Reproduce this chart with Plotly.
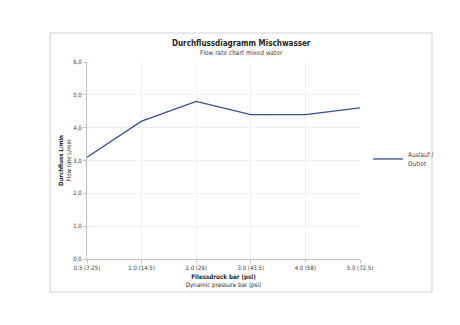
import plotly.graph_objects as go

categories = ["0.5 (7.25)", "1.0 (14.5)", "2.0 (29)", "3.0 (43.5)", "4.0 (58)", "5.0 (72.5)"]
flow_values = [3.1, 4.2, 4.8, 4.4, 4.4, 4.6]
y_tick_values = [0, 1, 2, 3, 4, 5, 6]
y_tick_labels = ["0,0", "1,0", "2,0", "3,0", "4,0", "5,0", "6,0"]
series_name = "Auslauf /<br>Outlet"

W, H = 460, 325
L, R, T, B = 87, 360, 62, 259  # plot area in pixels

def px_to_paper_x(px):
    return (px - L) / (R - L)

def px_to_paper_y(py):
    return (B - py) / (B - T)

FONT = "DejaVu Sans Condensed, DejaVu Sans, sans-serif"

fig = go.Figure()
fig.add_trace(go.Scatter(
    x=categories, y=flow_values, mode="lines", name=series_name,
    line=dict(color="#34508f", width=1.3),
))

fig.update_layout(
    width=W, height=H,
    margin=dict(l=L, r=W - R, t=T, b=H - B),
    paper_bgcolor="white", plot_bgcolor="white",
    font=dict(family=FONT, size=6.5, color="#404040"),
    showlegend=True,
    legend=dict(
        x=px_to_paper_x(368), y=px_to_paper_y(144), xanchor="left", yanchor="top",
        font=dict(family=FONT, size=6.5, color="#404040"),
        itemwidth=30, bgcolor="rgba(0,0,0,0)", tracegroupgap=0,
    ),
    xaxis=dict(
        type="category", range=[0, 5],
        showgrid=True, gridcolor="#efefef", gridwidth=1,
        showline=True, linecolor="#bfbfbf", linewidth=1,
        ticks="outside", ticklen=3, tickcolor="#bfbfbf",
        tickfont=dict(family=FONT, size=6, color="#404040"),
        title=dict(text="<b>Fliessdruck bar (psi)</b><br>Dynamic pressure bar (psi)",
                   font=dict(family=FONT, size=6.2, color="#262626"), standoff=4),
        zeroline=False,
    ),
    yaxis=dict(
        range=[0, 6], tickvals=y_tick_values, ticktext=y_tick_labels,
        showgrid=True, gridcolor="#efefef", gridwidth=1,
        showline=True, linecolor="#bfbfbf", linewidth=1,
        ticks="outside", ticklen=3, tickcolor="#bfbfbf",
        tickfont=dict(family=FONT, size=6, color="#404040"),
        title=dict(text="<b>Durchfluss L/min</b><br>Flow rate L/min",
                   font=dict(family=FONT, size=6, color="#262626"), standoff=1),
        zeroline=False,
    ),
    annotations=[
        dict(text="<b>Durchflussdiagramm Mischwasser</b>", xref="paper", yref="paper",
             x=px_to_paper_x(241), y=px_to_paper_y(43), xanchor="center", yanchor="middle",
             showarrow=False, font=dict(family=FONT, size=8, color="#262626")),
        dict(text="Flow rate chart mixed water", xref="paper", yref="paper",
             x=px_to_paper_x(241), y=px_to_paper_y(53), xanchor="center", yanchor="middle",
             showarrow=False, font=dict(family=FONT, size=6.5, color="#404040")),
    ],
    shapes=[
        dict(type="rect", xref="paper", yref="paper",
             x0=px_to_paper_x(50), x1=px_to_paper_x(432),
             y0=px_to_paper_y(292), y1=px_to_paper_y(33),
             line=dict(color="#d0d0d0", width=1), fillcolor="rgba(0,0,0,0)", layer="below"),
    ],
)

fig.write_html("out.html")
